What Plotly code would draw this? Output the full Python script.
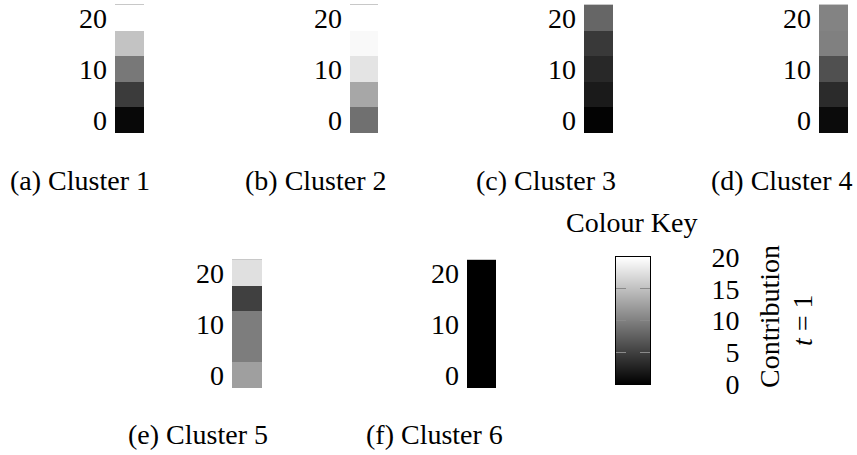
import plotly.graph_objects as go

# ---------------- data ----------------
row_levels = [0, 5, 10, 15, 20]          # y position of each cell
cluster_1 = [0.6, 4.6, 9.4, 15.3, 20.0]
cluster_2 = [8.8, 13.1, 17.9, 19.5, 20.0]
cluster_3 = [0.2, 2.0, 3.1, 4.5, 8.0]
cluster_4 = [0.9, 3.4, 6.3, 10.0, 10.3]
cluster_5 = [12.5, 9.8, 9.8, 5.0, 17.6]
cluster_6 = [0.0, 0.0, 0.0, 0.0, 0.0]
clusters = [cluster_1, cluster_2, cluster_3, cluster_4, cluster_5, cluster_6]
captions = ["(a) Cluster 1", "(b) Cluster 2", "(c) Cluster 3",
            "(d) Cluster 4", "(e) Cluster 5", "(f) Cluster 6"]
panel_ticks = [0, 10, 20]
key_range = [0, 20]
key_ticks = [0, 5, 10, 15, 20]
key_ticktext = ["\u20020", "\u20025", "10", "15", "20"]

# ---------------- layout helpers ----------------
W, H = 857, 455
FONT = "Liberation Serif"
FS = 28


def fx(x):
    return x / W


def fy(y):
    return 1 - y / H


# pixel boxes of each bar (x0, x1, ytop, ybottom)
boxes = [(115, 144, 5, 133), (350, 378, 5, 133), (584, 613, 5, 133),
         (819, 848, 5, 133), (232, 262, 260, 388), (467, 496, 260, 388)]
caption_pos = [(80, 181), (316, 181), (546, 181), (782, 181),
               (198, 434), (434, 434)]

fig = go.Figure()
layout = dict(
    width=W, height=H, margin=dict(l=0, r=0, t=0, b=0, pad=0,
                                   autoexpand=False),
    paper_bgcolor="white", plot_bgcolor="white",
    font=dict(family=FONT, size=FS, color="black"),
    showlegend=False,
    coloraxis=dict(colorscale=[[0, "#000000"], [1, "#ffffff"]],
                   cmin=key_range[0], cmax=key_range[1], showscale=False),
)

for i, (vals, box) in enumerate(zip(clusters, boxes), start=1):
    sx = "" if i == 1 else str(i)
    fig.add_trace(go.Heatmap(
        z=[[v] for v in vals], x=[0], y=row_levels,
        coloraxis="coloraxis", xaxis="x" + sx, yaxis="y" + sx,
        hoverinfo="skip"))
    x0, x1, yt, yb = box
    layout["xaxis" + sx] = dict(
        domain=[fx(x0), fx(x1)], range=[-0.5, 0.5], anchor="y" + sx,
        showticklabels=False, ticks="", showgrid=False, zeroline=False,
        side="top", showline=True, linecolor="#c8c8c8", linewidth=1,
        automargin=False)
    layout["yaxis" + sx] = dict(
        domain=[fy(yb), fy(yt)], range=[-2.5, 22.5], anchor="x" + sx,
        tickvals=panel_ticks, ticks="", showgrid=False, zeroline=False,
        ticklabelstandoff=7, tickfont=dict(family=FONT, size=FS),
        automargin=False)

# ---------------- colour key ----------------
fig.add_trace(go.Heatmap(
    z=[[key_range[0], key_range[0]], [key_range[1], key_range[1]]],
    x=[0, 1], y=key_range, zsmooth="best",
    coloraxis="coloraxis", xaxis="x7", yaxis="y7", hoverinfo="skip"))
layout["xaxis7"] = dict(
    domain=[fx(616), fx(650)], range=[0, 1], anchor="y7",
    showticklabels=False, ticks="", showgrid=False, zeroline=False,
    showline=True, mirror=True, linecolor="black", linewidth=1,
    automargin=False)
layout["yaxis7"] = dict(
    domain=[fy(384), fy(257)], range=key_range, anchor="x7", side="right",
    tickvals=key_ticks, ticktext=key_ticktext, ticks="inside",
    ticklen=10, tickcolor="#8a8a8a", tickwidth=1,
    showline=True, mirror="ticks", linecolor="black", linewidth=1,
    showgrid=False, zeroline=False, ticklabelstandoff=55,
    tickfont=dict(family=FONT, size=FS), automargin=False)

annotations = []
for text, (cx, cy) in zip(captions, caption_pos):
    annotations.append(dict(text=text, x=fx(cx), y=fy(cy), xref="paper",
                            yref="paper", showarrow=False,
                            xanchor="center", yanchor="middle",
                            font=dict(family=FONT, size=FS)))
annotations.append(dict(text="Colour Key", x=fx(631), y=fy(222),
                        xref="paper", yref="paper", showarrow=False,
                        xanchor="center", yanchor="middle",
                        font=dict(family=FONT, size=FS)))
annotations.append(dict(text="Contribution", x=fx(769), y=fy(317),
                        xref="paper", yref="paper", showarrow=False,
                        textangle=-90, xanchor="center", yanchor="middle",
                        font=dict(family=FONT, size=FS)))
annotations.append(dict(text="<i>t</i> = 1", x=fx(802), y=fy(320),
                        xref="paper", yref="paper", showarrow=False,
                        textangle=-90, xanchor="center", yanchor="middle",
                        font=dict(family=FONT, size=FS)))
layout["annotations"] = annotations

fig.update_layout(**layout)
fig.write_html(
    "out.html",
    config={"displayModeBar": False, "staticPlot": True},
    post_script="document.body.style.margin='0';"
                "document.body.style.overflow='hidden';")
